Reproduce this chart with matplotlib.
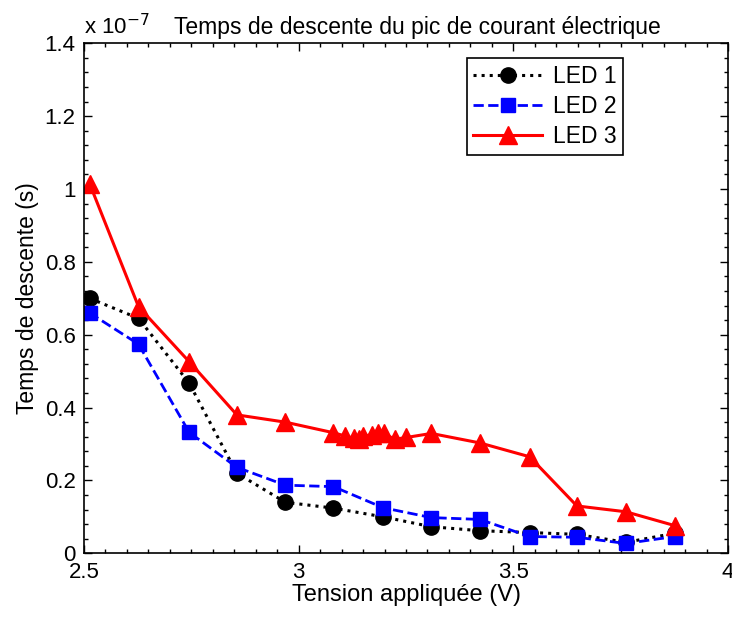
import matplotlib
matplotlib.use("Agg")
import matplotlib.pyplot as plt
from matplotlib.ticker import MultipleLocator, FuncFormatter

plt.rcParams['font.family'] = ['Liberation Sans', 'DejaVu Sans']

# Data (seconds)
x12 = [2.513, 2.627, 2.745, 2.856, 2.969, 3.081, 3.197, 3.309, 3.422, 3.538, 3.648, 3.762, 3.876]
led1 = [0.700, 0.645, 0.467, 0.220, 0.140, 0.124, 0.100, 0.073, 0.062, 0.057, 0.052, 0.030, 0.055]
led2 = [0.660, 0.574, 0.332, 0.236, 0.187, 0.183, 0.125, 0.098, 0.093, 0.046, 0.044, 0.027, 0.046]
x3 = [2.513, 2.627, 2.745, 2.856, 2.969, 3.081, 3.108, 3.128, 3.140, 3.151, 3.170, 3.184, 3.198,
      3.224, 3.251, 3.309, 3.422, 3.538, 3.648, 3.762, 3.876]
led3 = [1.015, 0.677, 0.526, 0.380, 0.360, 0.331, 0.322, 0.316, 0.313, 0.322, 0.325, 0.329, 0.329,
        0.313, 0.318, 0.329, 0.303, 0.265, 0.130, 0.114, 0.076]
led1 = [v * 1e-7 for v in led1]
led2 = [v * 1e-7 for v in led2]
led3 = [v * 1e-7 for v in led3]

fig = plt.figure(figsize=(7.32, 6.19), dpi=100)
ax = fig.add_axes([84/732, 1 - 553.3/619, 644/732, 510/619])

ax.plot(x12, led1, color='black', linestyle=':', linewidth=2.2, marker='o', markersize=11, label='LED 1')
ax.plot(x12, led2, color='blue', linestyle='--', linewidth=2.0, marker='s', markersize=10, label='LED 2')
ax.plot(x3, led3, color='red', linestyle='-', linewidth=2.2, marker='^', markersize=13, label='LED 3')

ax.set_xlim(2.5, 4)
ax.set_ylim(0, 1.4e-7)
ax.xaxis.set_major_locator(MultipleLocator(0.5))
ax.xaxis.set_minor_locator(MultipleLocator(0.05))
ax.yaxis.set_major_locator(MultipleLocator(0.2e-7))
ax.yaxis.set_minor_locator(MultipleLocator(0.04e-7))
ax.xaxis.set_major_formatter(FuncFormatter(lambda v, p: f"{v:g}"))
ax.yaxis.set_major_formatter(FuncFormatter(lambda v, p: f"{round(v/1e-7, 6):g}"))
ax.tick_params(which='both', direction='in', top=True, right=True, labelsize=16, width=1)
ax.tick_params(which='major', length=6, pad=6)
ax.tick_params(which='minor', length=3)
for s in ax.spines.values():
    s.set_linewidth(1.2)

ax.set_xlabel('Tension appliquée (V)', fontsize=17, labelpad=1)
ax.set_ylabel('Temps de descente (s)', fontsize=16.5, labelpad=4)
ax.set_title('Temps de descente du pic de courant électrique', fontsize=16.5, pad=7, x=0.518)
ax.text(0.0, 1.008, r'x 10$^{-7}$', transform=ax.transAxes, fontsize=16, ha='left', va='bottom')

leg = ax.legend(loc='upper right', bbox_to_anchor=(0.837, 0.971), fontsize=16.5, frameon=True,
                fancybox=False, edgecolor='black', framealpha=1, borderpad=0.3,
                handlelength=3.0, handletextpad=0.45, labelspacing=0.3, borderaxespad=0)
leg.get_frame().set_linewidth(1.2)

fig.savefig('out.png', dpi=100)
